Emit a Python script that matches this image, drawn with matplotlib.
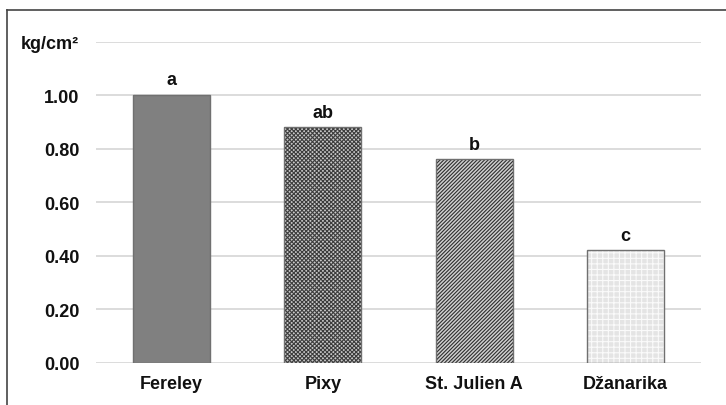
import matplotlib
matplotlib.use("Agg")
import matplotlib.pyplot as plt
from matplotlib.lines import Line2D

# -- data --
cultivars = ["Fereley", "Pixy", "St. Julien A", "Džanarika"]
firmness = [1.00, 0.88, 0.76, 0.42]
letters = ["a", "ab", "b", "c"]
y_ticks = [0.0, 0.2, 0.4, 0.6, 0.8, 1.0, 1.2]
y_tick_labels = ["0.00", "0.20", "0.40", "0.60", "0.80", "1.00", "kg/cm²"]

# -- styles --
face = ["#808080", "#c8c8c8", "#d0d0d0", "#e4e4e4"]
hatches = [None, "xxxxxxxx", "/////////", "+++"]
hatch_col = ["#808080", "#3c3c3c", "#2e2e2e", "#fafafa"]

plt.rcParams["font.family"] = ["Liberation Sans", "DejaVu Sans"]
plt.rcParams["font.weight"] = "bold"
plt.rcParams["hatch.linewidth"] = 0.8

fig = plt.figure(figsize=(7.26, 4.06), dpi=100)
ax = fig.add_axes([96 / 726, 42 / 406, 605 / 726, 321.5 / 406])

x = range(len(cultivars))
for i in x:
    ax.bar(i, firmness[i], width=0.51, color=face[i], hatch=hatches[i],
           edgecolor=hatch_col[i], linewidth=0, zorder=2)
    ax.bar(i, firmness[i], width=0.51, fill=False, edgecolor="#707070",
           linewidth=1.0, zorder=3)
    ax.text(i, firmness[i] + 0.025, letters[i], ha="center", va="bottom",
            fontsize=13, fontweight="bold", color="#111111")

ax.set_xlim(-0.5, 3.5)
ax.set_ylim(0, 1.2)
ax.set_yticks(y_ticks)
ax.set_yticklabels(y_tick_labels)
ax.set_xticks(list(x))
ax.set_xticklabels(cultivars)
ax.tick_params(length=0, labelsize=13, labelcolor="#111111")
ax.tick_params(axis="y", pad=12)
ax.tick_params(axis="x", pad=9)
ax.grid(axis="y", color="#d9d9d9", linewidth=1.3, zorder=0)
ax.set_axisbelow(True)
for s in ax.spines.values():
    s.set_visible(False)

# outer frame (left and top edges visible)
fig.add_artist(Line2D([7 / 726, 7 / 726], [0, 1 - 11 / 406],
                      transform=fig.transFigure, color="#444444", linewidth=1.2))
fig.add_artist(Line2D([7 / 726, 1], [1 - 11 / 406, 1 - 11 / 406],
                      transform=fig.transFigure, color="#444444", linewidth=1.2))

fig.savefig("out.png", dpi=100)
